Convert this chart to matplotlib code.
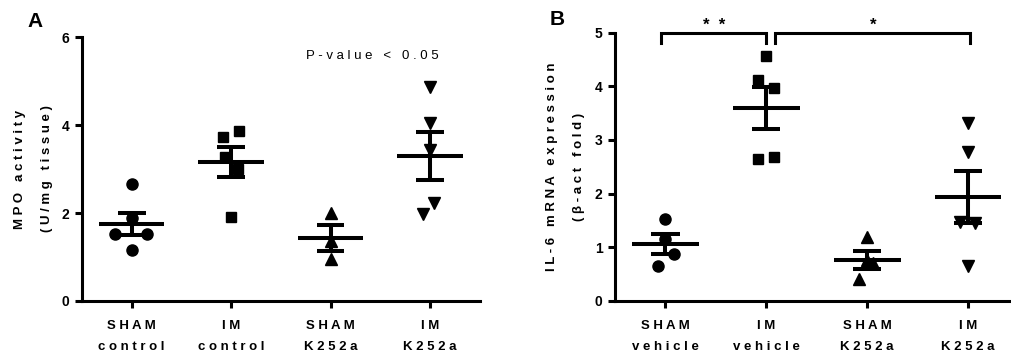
import numpy as np
import matplotlib
matplotlib.use("Agg")
import matplotlib.pyplot as plt

plt.rcParams["font.family"] = ["Liberation Sans", "DejaVu Sans"]

# panel A: MPO activity
a_labels = ["SHAM\ncontrol", "IM\ncontrol", "SHAM\nK252a", "IM\nK252a"]
a_sham_control = [2.67, 1.88, 1.52, 1.52, 1.17]
a_im_control = [3.73, 3.86, 3.28, 3.01, 1.92]
a_sham_k252a = [1.99, 1.36, 0.95]
a_im_k252a = [4.86, 4.04, 3.43, 2.22, 1.97]

# panel B: IL-6 mRNA
b_labels = ["SHAM\nvehicle", "IM\nvehicle", "SHAM\nK252a", "IM\nK252a"]
b_sham_vehicle = [1.52, 1.15, 0.88, 0.65]
b_im_vehicle = [4.57, 4.12, 3.96, 2.64, 2.68]
b_sham_k252a = [1.18, 0.76, 0.70, 0.40]
b_im_k252a = [3.31, 2.77, 1.47, 1.45, 0.65]

# horizontal scatter offsets so overlapping points are visible
a_offsets = [[0, 0, -0.168, 0.155, 0],
             [-0.084, 0.077, -0.057, 0.067, 0],
             [0, 0, 0],
             [0, 0, 0, 0.044, -0.07]]
b_offsets = [[0, 0, 0.083, -0.076],
             [0, -0.079, 0.076, -0.079, 0.076],
             [0, 0, 0.056, -0.083],
             [0, 0, -0.076, 0.073, 0]]

markers = ["o", "s", "^", "v"]
msizes = [8, 7.2, 8, 8]


def track(s):
    # wide letter spacing like the original figure
    lines = []
    for line in s.split("\n"):
        lines.append("   ".join(" ".join(w) for w in line.split(" ")))
    return "\n".join(lines)


def draw_panel(ax, groups, offsets, labels, ymax, yticks):
    for i, (vals, offs) in enumerate(zip(groups, offsets)):
        x = i + 1
        vals = np.asarray(vals)
        mean = vals.mean()
        sem = vals.std(ddof=1) / np.sqrt(len(vals))
        ax.plot(x + np.asarray(offs), vals, linestyle="none", marker=markers[i],
                ms=msizes[i], color="black", zorder=3)
        ax.hlines(mean, x - 0.33, x + 0.33, color="black", lw=2.9, zorder=4)
        ax.hlines([mean - sem, mean + sem], x - 0.14, x + 0.14, color="black", lw=2.9, zorder=4)
        ax.vlines(x, mean - sem, mean + sem, color="black", lw=2.9, zorder=4)
    ax.set_xlim(0.5, 4.5)
    ax.set_ylim(0, ymax)
    ax.set_yticks(yticks)
    ax.set_xticks([1, 2, 3, 4])
    ax.set_xticklabels([track(l) for l in labels], fontsize=9.5, fontweight="bold",
                       linespacing=2.0)
    for lab in ax.get_yticklabels():
        lab.set_fontweight("bold")
        lab.set_fontsize(10)
    for side in ["top", "right"]:
        ax.spines[side].set_visible(False)
    for side in ["left", "bottom"]:
        ax.spines[side].set_linewidth(2.2)
    ax.tick_params(width=2.2, length=5, pad=4)
    ax.tick_params(axis="x", pad=9)


fig = plt.figure(figsize=(10.12, 3.56), dpi=100)

axA = fig.add_axes([0.081, 0.1545, 0.393, 0.7415])
draw_panel(axA, [a_sham_control, a_im_control, a_sham_k252a, a_im_k252a],
           a_offsets, a_labels, 6, [0, 2, 4, 6])
axA.set_ylabel(track("MPO activity\n(U/mg tissue)"), fontsize=9.5, fontweight="bold",
               linespacing=2.7, labelpad=6)
axA.text(3.42, 5.57, track("P-value < 0.05"), ha="center", va="center", fontsize=9.5)
fig.text(0.035, 0.94, "A", fontsize=15, fontweight="bold", ha="center", va="center")

axB = fig.add_axes([0.6077, 0.1553, 0.3988, 0.7529])
draw_panel(axB, [b_sham_vehicle, b_im_vehicle, b_sham_k252a, b_im_k252a],
           b_offsets, b_labels, 5, [0, 1, 2, 3, 4, 5])
axB.set_ylabel(track("IL-6 mRNA expression\n(\u03b2-act fold)"), fontsize=9.5,
               fontweight="bold", linespacing=2.7, labelpad=7)
fig.text(0.551, 0.944, "B", fontsize=15, fontweight="bold", ha="center", va="center")

# significance brackets
brackets = [(0.96, 2.0, "*  *"), (2.09, 4.02, "*")]
for x0, x1, star in brackets:
    axB.plot([x0, x0, x1, x1], [4.8, 5.0, 5.0, 4.8], color="black", lw=2.2,
             clip_on=False, solid_joinstyle="miter")
    axB.text((x0 + x1) / 2, 5.14, star, ha="center", va="center", fontsize=12,
             fontweight="bold", clip_on=False)

fig.savefig("out.png", dpi=100)
